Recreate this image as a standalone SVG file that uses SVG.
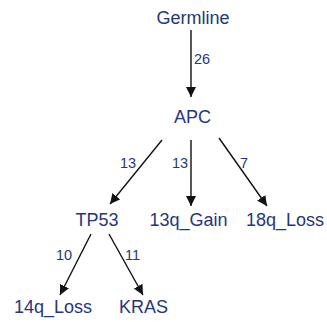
<svg xmlns="http://www.w3.org/2000/svg" width="327" height="322" viewBox="0 0 327 322">
  <defs>
    <marker id="arrow" viewBox="0 0 10 10" refX="10" refY="5" markerWidth="10" markerHeight="10" markerUnits="userSpaceOnUse" orient="auto">
      <path d="M0,0 L10,5 L0,10 z" fill="#111"/>
    </marker>
    <style>
      .node { font-family: "Liberation Sans", Arial, sans-serif; font-size: 18px; fill: #27367a; text-anchor: middle; }
      .lbl { font-family: "Liberation Sans", Arial, sans-serif; font-size: 14.5px; fill: #27367a; }
      .edge { stroke: #111; stroke-width: 1.4; fill: none; marker-end: url(#arrow); }
    </style>
  </defs>
  <rect width="327" height="322" fill="#fff"/>
  <!-- arrows and their count labels -->
  <g id="connectors">
    <line class="edge" x1="191" y1="30" x2="191" y2="97"/>
    <line class="edge" x1="162" y1="140" x2="110" y2="204"/>
    <line class="edge" x1="191" y1="140" x2="191" y2="206"/>
    <line class="edge" x1="219" y1="138" x2="267" y2="206"/>
    <line class="edge" x1="91" y1="234" x2="60" y2="295"/>
    <line class="edge" x1="109" y1="234" x2="143" y2="295"/>
    <text class="lbl" x="194" y="64">26</text>
    <text class="lbl" x="120" y="168">13</text>
    <text class="lbl" x="172" y="168">13</text>
    <text class="lbl" x="240" y="168">7</text>
    <text class="lbl" x="56" y="260">10</text>
    <text class="lbl" x="125" y="260">11</text>
  </g>
  <g id="Germline"><text class="node" x="193" y="24">Germline</text></g>
  <g id="APC"><text class="node" x="192.5" y="123">APC</text></g>
  <g id="TP53"><text class="node" x="97" y="226">TP53</text></g>
  <g id="q13_Gain"><text class="node" x="188.5" y="226">13q_Gain</text></g>
  <g id="q18_Loss"><text class="node" x="285" y="226">18q_Loss</text></g>
  <g id="q14_Loss"><text class="node" x="53" y="313">14q_Loss</text></g>
  <g id="KRAS"><text class="node" x="143.5" y="313">KRAS</text></g>
</svg>
